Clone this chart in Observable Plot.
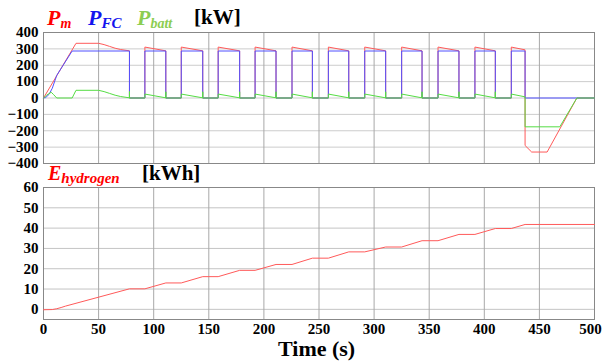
<!DOCTYPE html>
<html>
<head>
<meta charset="utf-8">
<script src="https://cdn.jsdelivr.net/npm/d3@7"></script>
<script src="https://cdn.jsdelivr.net/npm/@observablehq/plot@0.6"></script>
<style>
  html, body { margin: 0; padding: 0; background: #fff; }
  #wrap { position: relative; width: 603px; height: 362px; overflow: hidden; font-family: "Liberation Serif", "Times New Roman", serif; }
  .lbl { position: absolute; white-space: nowrap; font-weight: bold; line-height: 1; }
  .it { font-style: italic; }
  .sub { font-size: 14px; position: relative; top: 3px; }
  #top, #bot { position: absolute; left: 0; }
  #top { top: 0; }
  #bot { top: 170px; }
  #wrap svg, #wrap svg text { font-family: "Liberation Serif", "Times New Roman", serif !important; font-weight: bold !important; font-size: 15px !important; }
</style>
</head>
<body>
<div id="wrap">
  <div id="top"></div>
  <div id="bot"></div>
  <div class="lbl it" style="left:47px; top:7px; font-size:22px; color:#ff0000;">P<span class="sub">m</span></div>
  <div class="lbl it" style="left:88px; top:7px; font-size:22px; color:#1414ee;">P<span class="sub" style="font-size:15px">FC</span></div>
  <div class="lbl it" style="left:137px; top:7px; font-size:22px; color:#8ccd52;">P<span class="sub">batt</span></div>
  <div class="lbl" style="left:194px; top:7px; font-size:21px; color:#000;">[kW]</div>
  <div class="lbl it" style="left:48px; top:163px; font-size:20px; color:#ff0000;">E<span class="sub" style="font-size:15px">hydrogen</span></div>
  <div class="lbl" style="left:142px; top:163px; font-size:21px; color:#000;">[kWh]</div>
  <div class="lbl" style="left:278px; top:338px; font-size:22px; color:#000;">Time (s)</div>
</div>
<script>
// ---- Data ----
const xTicks = [0, 50, 100, 150, 200, 250, 300, 350, 400, 450, 500];
const pTicks = [-400, -300, -200, -100, 0, 100, 200, 300, 400];
const eTicks = [0, 10, 20, 30, 40, 50, 60];

// P_m (motor power, kW)
const pmT = [0, 29.5, 50, 55, 60, 65, 70, 78, 78,
  92, 92, 111, 111,
  125, 125, 144.5, 144.5,
  158.5, 158.5, 178, 178,
  192, 192, 211, 211,
  225.5, 225.5, 244, 244,
  258.5, 258.5, 277, 277,
  291.5, 291.5, 310.5, 310.5,
  325, 325, 343.5, 343.5,
  358, 358, 377, 377,
  391.5, 391.5, 410, 410,
  424.5, 424.5, 437, 437, 443, 457, 484, 500];
const pmV = [0, 334, 334, 326, 315, 304, 296, 288, 0,
  0, 311, 288, 0,
  0, 311, 288, 0,
  0, 311, 288, 0,
  0, 311, 288, 0,
  0, 311, 288, 0,
  0, 311, 288, 0,
  0, 311, 288, 0,
  0, 311, 288, 0,
  0, 311, 288, 0,
  0, 311, 288, 0,
  0, 311, 294, -290, -330, -330, 0, 0];

// P_FC (fuel cell power, kW)
const pfcT = [0, 2, 5, 8, 12, 26, 78, 78,
  92, 92, 111, 111,
  125, 125, 144.5, 144.5,
  158.5, 158.5, 178, 178,
  192, 192, 211, 211,
  225.5, 225.5, 244, 244,
  258.5, 258.5, 277, 277,
  291.5, 291.5, 310.5, 310.5,
  325, 325, 343.5, 343.5,
  358, 358, 377, 377,
  391.5, 391.5, 410, 410,
  424.5, 424.5, 437, 437, 500];
const pfcV = [0, 3, 22, 60, 138, 287, 287, 0,
  0, 287, 287, 0,
  0, 287, 287, 0,
  0, 287, 287, 0,
  0, 287, 287, 0,
  0, 287, 287, 0,
  0, 287, 287, 0,
  0, 287, 287, 0,
  0, 287, 287, 0,
  0, 287, 287, 0,
  0, 287, 287, 0,
  0, 287, 287, 0, 0];

// P_batt (battery power, kW)
const pbT = [0, 3, 7, 9, 12, 26, 29.5, 50, 55, 60, 65, 70, 78, 78, 78,
  92, 92, 111, 111, 111,
  125, 125, 144.5, 144.5, 144.5,
  158.5, 158.5, 178, 178, 178,
  192, 192, 211, 211, 211,
  225.5, 225.5, 244, 244, 244,
  258.5, 258.5, 277, 277, 277,
  291.5, 291.5, 310.5, 310.5, 310.5,
  325, 325, 343.5, 343.5, 343.5,
  358, 358, 377, 377, 377,
  391.5, 391.5, 410, 410, 410,
  424.5, 424.5, 437, 437, 468.5, 484, 500];
const pbV = [0, 18, 35, 22, 0, 0, 47, 47, 39, 28, 17, 9, 1, 40, 0,
  0, 24, 1, 38, 0,
  0, 24, 1, 38, 0,
  0, 24, 1, 38, 0,
  0, 24, 1, 38, 0,
  0, 24, 1, 38, 0,
  0, 24, 1, 38, 0,
  0, 24, 1, 38, 0,
  0, 24, 1, 38, 0,
  0, 24, 1, 38, 0,
  0, 24, 1, 38, 0,
  0, 24, 7, -176, -176, 0, 0];

// E_hydrogen (kWh)
const eT = [0, 8, 12, 16, 20, 78, 92, 111, 125, 144.5, 158.5, 178, 192, 211, 225.5, 244,
  258.5, 277, 291.5, 310.5, 325, 343.5, 358, 377, 391.5, 410, 424.5, 437, 500];
const eV = [-0.2, -0.1, 0.3, 0.9, 1.6, 10.1, 10.1, 13, 13, 16.1, 16.1, 19.2, 19.2, 22.1, 22.1, 25.2,
  25.2, 28.3, 28.3, 30.7, 30.7, 33.8, 33.8, 36.9, 36.9, 39.8, 39.8, 41.8, 41.8];

const toRows = (T, V) => T.map((t, i) => ({t, v: V[i]}));
const pm = toRows(pmT, pmV), pfc = toRows(pfcT, pfcV), pb = toRows(pbT, pbV), eh = toRows(eT, eV);

const cRed = "#ff5a5a", cBlue = "#5050ff", cGreen = "#55dd44";
const style = {fontFamily: "'Liberation Serif', 'Times New Roman', serif", fontSize: "15px", fontWeight: "bold", color: "#000", background: "transparent", overflow: "visible"};

const topPlot = Plot.plot({
  width: 603, height: 170,
  marginLeft: 43, marginRight: 9, marginTop: 32, marginBottom: 7,
  style,
  x: {domain: [0, 500], axis: null},
  y: {domain: [-400, 400], ticks: pTicks, tickSize: 0, tickPadding: 5, label: null},
  marks: [
    Plot.ruleY(pTicks, {stroke: "#cccccc", strokeWidth: 1}),
    Plot.ruleX(xTicks, {stroke: "#a8a8a8", strokeWidth: 1}),
    Plot.frame({stroke: "#888888"}),
    Plot.line(pm, {x: "t", y: "v", stroke: cRed, strokeWidth: 1}),
    Plot.line(pfc, {x: "t", y: "v", stroke: cBlue, strokeWidth: 1}),
    Plot.line(pb, {x: "t", y: "v", stroke: cGreen, strokeWidth: 1})
  ]
});
document.getElementById("top").appendChild(topPlot);

const botPlot = Plot.plot({
  width: 603, height: 192,
  marginLeft: 43, marginRight: 9, marginTop: 17, marginBottom: 43,
  style,
  x: {domain: [0, 500], ticks: xTicks, tickSize: 0, tickPadding: 4, label: null},
  y: {domain: [-5, 60], ticks: eTicks, tickSize: 0, tickPadding: 5, label: null},
  marks: [
    Plot.ruleY(eTicks, {stroke: "#c4c4c4", strokeWidth: 1}),
    Plot.ruleX(xTicks, {stroke: "#a8a8a8", strokeWidth: 1}),
    Plot.frame({stroke: "#888888"}),
    Plot.line(eh, {x: "t", y: "v", stroke: cRed, strokeWidth: 1})
  ]
});
document.getElementById("bot").appendChild(botPlot);

// keep the last x tick label ("500") inside the picture
const xLabels = botPlot.querySelectorAll('g[aria-label="x-axis tick label"] text');
if (xLabels.length) xLabels[xLabels.length - 1].setAttribute("dx", "-4");
</script>
</body>
</html>
